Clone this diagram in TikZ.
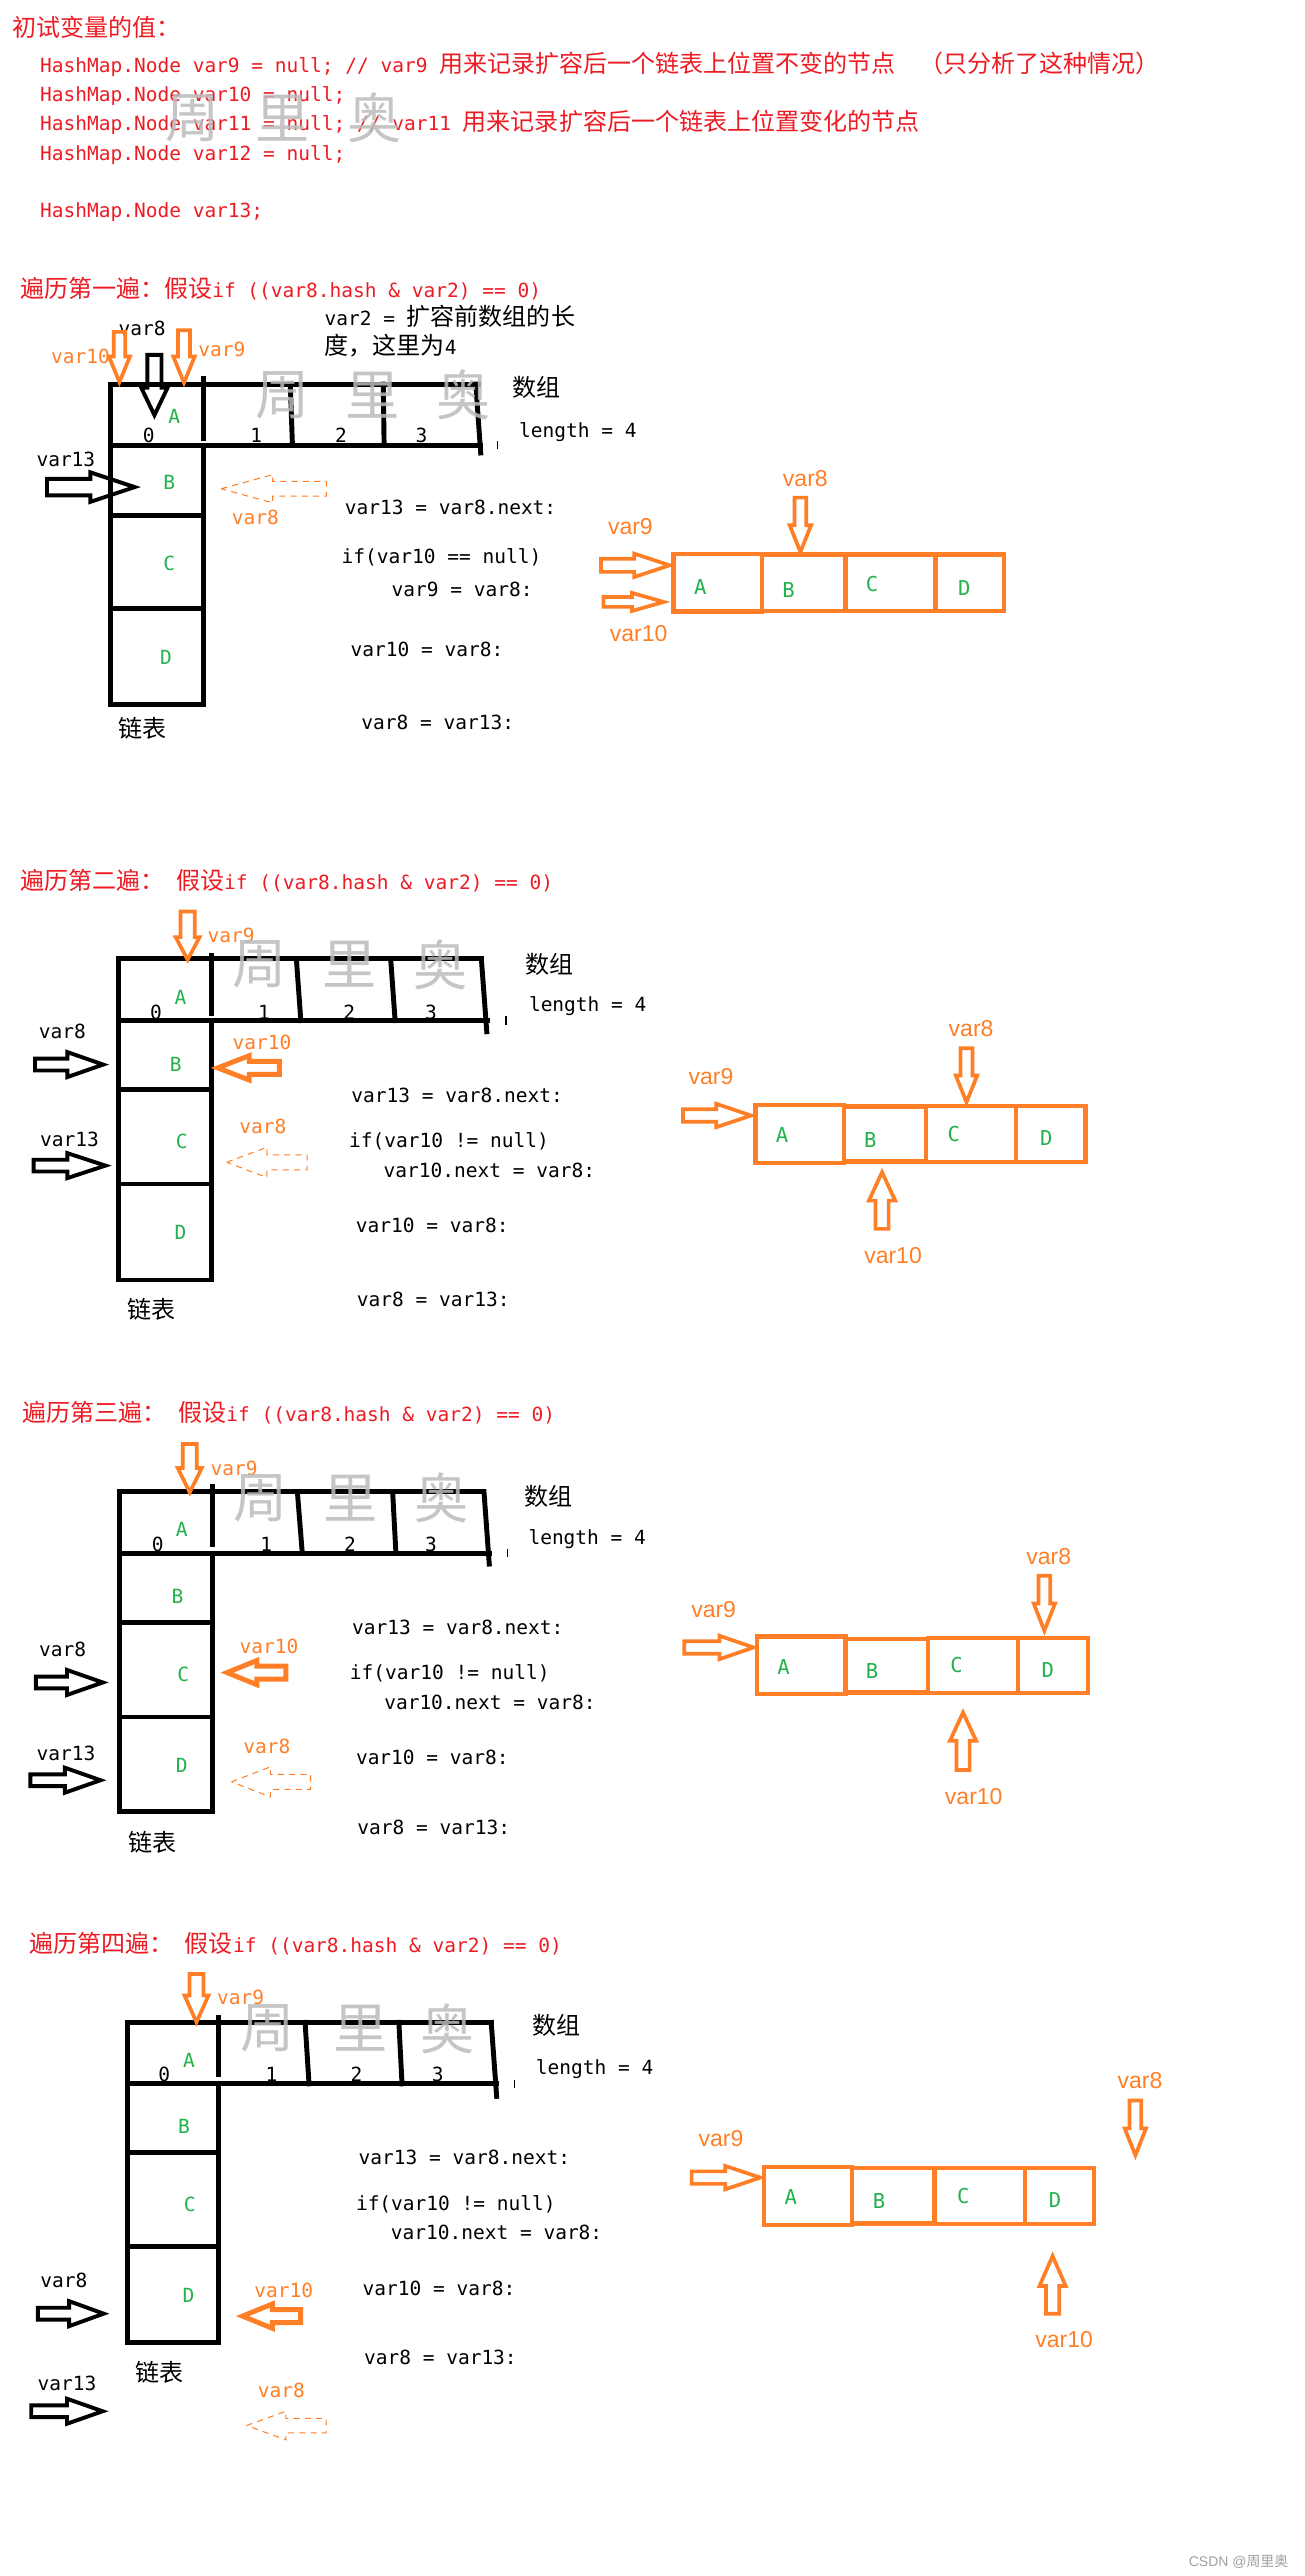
\documentclass[tikz,border=0pt]{standalone}
\usepackage{fontspec}
\newfontfamily\monof{DejaVu Sans Mono}
\newfontfamily\cjkf{Noto Sans CJK SC}
\newfontfamily\sansf{Liberation Sans}
\newcommand\tM{\fontsize{9.5pt}{11pt}\monof}
\newcommand\tMb{\fontsize{10pt}{12pt}\monof}
\newcommand\tC{\fontsize{11.7pt}{13pt}\cjkf}
\newcommand\tL{\fontsize{11.2pt}{13pt}\sansf}
\newcommand\tW{\fontsize{26.4pt}{30pt}\cjkf}
\newcommand\tS{\fontsize{6.8pt}{8pt}\sansf}
\newcommand\tSc{\fontsize{6.8pt}{8pt}\cjkf}
\definecolor{ored}{HTML}{ED1C24}
\definecolor{oorange}{HTML}{FF7F27}
\definecolor{ogreen}{HTML}{22B14C}
\definecolor{wmgray}{HTML}{BCBCBC}
\definecolor{csdngray}{HTML}{A0A0A0}
\newcommand\blockarrow[8]{\begin{scope}[shift={(#2,#3)},rotate=#4]\draw[#1] (0,0) -- (-#6,#8) -- (-#6,#7) -- (-#5,#7) -- (-#5,-#7) -- (-#6,-#7) -- (-#6,-#8) -- cycle;\end{scope}}
\tikzset{
  txt/.style={inner sep=0pt, outer sep=0pt, text height=7pt, text depth=0pt},
  code/.style={txt, anchor=west, font=\tM},
  cjkt/.style={txt, anchor=west, font=\tC},
  lblk/.style={txt, font=\tM},
  lor/.style={txt, font=\tM, text=oorange},
  rlab/.style={txt, font=\tL, text=oorange},
  letter/.style={txt, font=\tM, text=ogreen},
  rletter/.style={txt, font=\tMb, text=ogreen},
  idx/.style={txt, font=\tM},
  ttl/.style={txt, anchor=west, text=ored},
  wm/.style={inner sep=0pt, font=\tW, text=wmgray, text opacity=0.85},
  grid/.style={line width=2.4pt, line cap=rect, line join=miter},
  obox/.style={draw=oorange, line width=2.1pt},
  barr/.style={draw=black, line width=1.9pt, line join=miter},
  oarr/.style={draw=oorange, line width=1.8pt, line join=miter},
  oarrthick/.style={draw=oorange, line width=2.4pt, line join=miter},
  dasharr/.style={draw=oorange, line width=0.5pt, dash pattern=on 3pt off 2.5pt},
  tick/.style={line width=0.6pt}
}
\begin{document}
\begin{tikzpicture}[x=0.8pt,y=-0.8pt]
\fill[white] (0,0) rectangle (794,1568);
\useasboundingbox (0,0) rectangle (794,1568);

% ---------------- header ----------------
\node[ttl, font=\tC] (h0) at (7.6,17.9) {初试变量的值：};
\node[ttl] (h1) at (24.4,40) {{\tM HashMap.Node var9 = null; // var9 }{\tC 用来记录扩容后一个链表上位置不变的节点}{\tM\ \ }{\tC （只分析了这种情况）}};
\node[ttl, font=\tM] (h2) at (24.4,57.4) {HashMap.Node var10 = null;};
\node[ttl] (h3) at (24.4,75.1) {{\tM HashMap.Node var11 = null; // var11 }{\tC 用来记录扩容后一个链表上位置变化的节点}};
\node[ttl, font=\tM] (h4) at (24.4,93.4) {HashMap.Node var12 = null;};
\node[ttl, font=\tM] (h5) at (24.4,128.3) {HashMap.Node var13;};
\node[wm] (hw1) at (117,72) {周};
\node[wm] (hw2) at (172,72) {里};
\node[wm] (hw3) at (228,72) {奥};

% ---------------- section 1 ----------------
\node[ttl] (s1t) at (12.2,176.6) {{\tC 遍历第一遍：假设}{\tM if ((var8.hash \& var2) == 0)}};
\node[txt, anchor=west] (s1n1) at (197.6,193.8) {{\tM var2 = }{\tC 扩容前数组的长}};
\node[txt, anchor=west] (s1n2) at (197.6,211.5) {{\tC 度，这里为}{\tM 4}};
% grid
\draw[grid] (67.4,428.7) -- (67.4,233.8) -- (291,233.8);
\draw[grid] (67.4,271) -- (292.6,271);
\draw[grid] (289.6,233.8) -- (292.6,275.7);
\draw[grid] (123.7,230.4) -- (123.7,266.7);
\draw[grid] (176.7,233.8) -- (178,271);
\draw[grid] (233.3,233.8) -- (233.8,271);
\draw[grid] (123.7,271) -- (123.7,428.7) -- (67.4,428.7);
\draw[grid] (67.4,313.6) -- (123.7,313.6);
\draw[grid] (67.4,370.4) -- (123.7,370.4);
\draw[tick] (303,268.5) -- (303,273.5);
\node[idx] (s1i0) at (90.5,265) {0};
\node[letter] (s1a) at (106,253.7) {A};
\node[idx] (s1i1) at (155.9,265) {1};
\node[idx] (s1i2) at (207.6,265) {2};
\node[idx] (s1i3) at (256.5,265) {3};
\node[cjkt] (s1arr) at (312,237.1) {数组};
\node[code] (s1len) at (316,261.8) {length = 4};
\node[letter] (s1b) at (103,293.3) {B};
\node[letter] (s1c) at (103,343) {C};
\node[letter] (s1d) at (101,400) {D};
\node[txt, font=\tC] (s1ll) at (86.5,444.6) {链表};
% pointers
\node[lblk] (s1v8) at (86.5,200) {var8};
\node[lor] (s1v10) at (49,217) {var10};
\node[lor] (s1v9) at (135,212.6) {var9};
\blockarrow{oarr}{72.7}{232.6}{-90}{30.6}{15.6}{3.5}{6.4}
\blockarrow{oarr}{112}{233}{-90}{32}{16}{3.6}{6.5}
\blockarrow{barr}{94}{252.7}{-90}{36.7}{16.7}{4.3}{8}
\node[lblk] (s1v13) at (40.1,279.7) {var13};
\blockarrow{barr}{82}{296.5}{0}{53.4}{27}{5}{9}
\blockarrow{dasharr}{134.6}{297.5}{180}{64}{31.4}{4.5}{8.6}
\node[lor] (s1v8b) at (155.5,314.6) {var8};
% code
\node[code] (s1c1) at (209.9,309) {var13 = var8.next:};
\node[code] (s1c2) at (208,338.6) {if(var10 == null)};
\node[code] (s1c3) at (238.4,358.7) {var9 = var8:};
\node[code] (s1c4) at (213.4,395.3) {var10 = var8:};
\node[code] (s1c5) at (220,439.5) {var8 = var13:};
% right list
\draw[obox] (410,337.2) rectangle (463.9,372.3);
\draw[obox] (463.9,337.6) rectangle (514.6,371.9);
\draw[obox] (514.6,337.6) rectangle (569.4,371.9);
\draw[obox] (569.4,337.6) rectangle (611,371.9);
\node[rletter] (s1ra) at (426.3,357.3) {A};
\node[rletter] (s1rb) at (480,359.3) {B};
\node[rletter] (s1rc) at (530.8,355.7) {C};
\node[rletter] (s1rd) at (587,358.3) {D};
\node[rlab] (s1r8) at (490.2,291.9) {var8};
\node[rlab] (s1r9) at (383.7,321.1) {var9};
\node[rlab] (s1r10) at (388.7,386.3) {var10};
\blockarrow{oarr}{487.2}{336}{-90}{33.1}{16.3}{3.6}{6.5}
\blockarrow{oarr}{407.6}{344.1}{0}{41.8}{21.5}{4}{7.1}
\blockarrow{oarr}{404}{366.4}{0}{36.6}{19.3}{3}{5.5}
\node[wm] (s1w1) at (172,240.5) {周};
\node[wm] (s1w2) at (227,240.5) {里};
\node[wm] (s1w3) at (282,240.5) {奥};

% ---------------- section 2 ----------------
\node[ttl] (s2t) at (12.3,537.3) {{\tC 遍历第二遍：}{\tM\ }{\tC 假设}{\tM if ((var8.hash \& var2) == 0)}};
\draw[grid] (72,779.1) -- (72,583.6) -- (293,583.6);
\draw[grid] (72,621.2) -- (296.9,621.2);
\draw[grid] (293,583.6) -- (296.3,628);
\draw[grid] (128.7,581.7) -- (128.7,617);
\draw[grid] (180.4,583.6) -- (183.1,621.2);
\draw[grid] (237.8,583.6) -- (240.5,621.2);
\draw[grid] (128.7,621.2) -- (128.7,779.1) -- (72,779.1);
\draw[grid] (72,663.4) -- (128.7,663.4);
\draw[grid] (72,720.7) -- (128.7,720.7);
\draw[tick] (308,618.7) -- (308,623.7);
\node[idx] (s2i0) at (95,616) {0};
\node[letter] (s2a) at (109.8,607) {A};
\node[idx] (s2i1) at (160.7,616) {1};
\node[idx] (s2i2) at (212.6,616) {2};
\node[idx] (s2i3) at (262.3,616) {3};
\node[cjkt] (s2arr) at (320,588.3) {数组};
\node[code] (s2len) at (322,611.5) {length = 4};
\node[letter] (s2b) at (107,647.6) {B};
\node[letter] (s2c) at (110.7,694.7) {C};
\node[letter] (s2d) at (109.8,750.1) {D};
\node[txt, font=\tC] (s2ll) at (92.4,798.2) {链表};
\blockarrow{oarr}{114.2}{584.2}{-90}{29.4}{13.8}{4.3}{7.3}
\node[lor] (s2v9) at (140.7,569.4) {var9};
\node[lblk] (s2v8) at (38,627.9) {var8};
\blockarrow{barr}{62.8}{648}{0}{41.5}{21.8}{3.6}{7.6}
\node[lblk] (s2v13) at (42.3,693.3) {var13};
\blockarrow{barr}{64.2}{709.5}{0}{43.7}{23.2}{3.6}{7.6}
\node[lor] (s2v10) at (159.5,634.4) {var10};
\blockarrow{oarrthick}{132.5}{650}{180}{37.5}{19.2}{4}{7.4}
\node[lor] (s2v8b) at (160,685.8) {var8};
\blockarrow{dasharr}{138}{707.5}{180}{49}{24.5}{4.6}{9.2}
\node[code] (s2c1) at (213.9,666.5) {var13 = var8.next:};
\node[code] (s2c2) at (212.5,694.3) {if(var10 != null)};
\node[code] (s2c3) at (233.5,712.1) {var10.next = var8:};
\node[code] (s2c4) at (216.6,746) {var10 = var8:};
\node[code] (s2c5) at (217.2,790.7) {var8 = var13:};
\draw[obox] (459.8,672.4) rectangle (513.6,707.9);
\draw[obox] (513.6,673.6) rectangle (563.7,706.9);
\draw[obox] (563.7,673) rectangle (618.5,707.5);
\draw[obox] (618.5,673) rectangle (660.8,707.5);
\node[rletter] (s2ra) at (476,691.2) {A};
\node[rletter] (s2rb) at (529.8,693.8) {B};
\node[rletter] (s2rc) at (580.6,690.6) {C};
\node[rletter] (s2rd) at (636.8,692.9) {D};
\node[rlab] (s2r9) at (432.8,655.7) {var9};
\blockarrow{oarr}{457.2}{679}{0}{41.5}{21.2}{3.8}{7.1}
\node[rlab] (s2r8) at (591.1,626.3) {var8};
\blockarrow{oarr}{588.3}{670.9}{-90}{32.9}{16.2}{3.6}{6.5}
\blockarrow{oarr}{536.9}{713.5}{90}{34.5}{17.3}{4}{8}
\node[rlab] (s2r10) at (543.6,765) {var10};
\node[wm] (s2w1) at (158,587) {周};
\node[wm] (s2w2) at (213,587) {里};
\node[wm] (s2w3) at (268,587) {奥};

% ---------------- section 3 ----------------
\node[ttl] (s3t) at (13.6,860.7) {{\tC 遍历第三遍：}{\tM\ }{\tC 假设}{\tM if ((var8.hash \& var2) == 0)}};
\draw[grid] (73,1102.9) -- (73,908) -- (294.6,908);
\draw[grid] (73,945.4) -- (297.8,945.4);
\draw[grid] (294.6,908) -- (297.8,952);
\draw[grid] (129.3,905) -- (129.3,940);
\draw[grid] (181,908) -- (184,945.4);
\draw[grid] (239,908) -- (241,945.4);
\draw[grid] (129.3,945.4) -- (129.3,1102.9) -- (73,1102.9);
\draw[grid] (73,987.6) -- (129.3,987.6);
\draw[grid] (73,1045.1) -- (129.3,1045.1);
\draw[tick] (309,942.9) -- (309,947.9);
\node[idx] (s3i0) at (96,939.9) {0};
\node[letter] (s3a) at (110.7,930.8) {A};
\node[idx] (s3i1) at (162,939.9) {1};
\node[idx] (s3i2) at (213,939.9) {2};
\node[idx] (s3i3) at (262.4,939.9) {3};
\node[cjkt] (s3arr) at (319.5,911.9) {数组};
\node[code] (s3len) at (321.7,935.8) {length = 4};
\node[letter] (s3b) at (108,971.4) {B};
\node[letter] (s3c) at (111.5,1019) {C};
\node[letter] (s3d) at (110.7,1074.3) {D};
\node[txt, font=\tC] (s3ll) at (92.9,1122.6) {链表};
\blockarrow{oarr}{115.5}{908.4}{-90}{29.4}{14.8}{4.3}{7.3}
\node[lor] (s3v9) at (142.5,893.6) {var9};
\node[lblk] (s3v8) at (38.1,1003.8) {var8};
\blockarrow{barr}{62.6}{1024.1}{0}{40.8}{21.8}{3.6}{7.6}
\node[lblk] (s3v13) at (40.2,1067.4) {var13};
\blockarrow{barr}{61.2}{1083.6}{0}{42.7}{21.7}{3.6}{7.6}
\node[lor] (s3v10) at (163.7,1002.2) {var10};
\blockarrow{oarrthick}{138.2}{1018.1}{180}{35.8}{18.2}{4}{7.4}
\node[lor] (s3v8b) at (162.5,1062.7) {var8};
\blockarrow{dasharr}{140.9}{1084.6}{180}{48.1}{23.7}{4.6}{9.15}
\node[code] (s3c1) at (214.3,990.7) {var13 = var8.next:};
\node[code] (s3c2) at (213,1018) {if(var10 != null)};
\node[code] (s3c3) at (233.9,1035.9) {var10.next = var8:};
\node[code] (s3c4) at (216.7,1069.8) {var10 = var8:};
\node[code] (s3c5) at (217.6,1112.4) {var8 = var13:};
\draw[obox] (460.8,996.2) rectangle (514.6,1031.2);
\draw[obox] (514.6,997.5) rectangle (564.9,1030.2);
\draw[obox] (564.9,997) rectangle (619.5,1030.5);
\draw[obox] (619.5,997) rectangle (662.1,1030.5);
\node[rletter] (s3ra) at (477,1015) {A};
\node[rletter] (s3rb) at (530.8,1017.4) {B};
\node[rletter] (s3rc) at (582.2,1013.9) {C};
\node[rletter] (s3rd) at (637.8,1016.6) {D};
\node[rlab] (s3r9) at (434.4,980) {var9};
\blockarrow{oarr}{458.7}{1002.8}{0}{42.2}{20.7}{3.8}{7.1}
\node[rlab] (s3r8) at (638.4,948) {var8};
\blockarrow{oarr}{635.7}{992.6}{-90}{33.5}{16.6}{3.6}{6.5}
\blockarrow{oarr}{586.2}{1042.4}{90}{35}{17.2}{4}{8}
\node[rlab] (s3r10) at (592.7,1094.2) {var10};
\node[wm] (s3w1) at (158.4,912) {周};
\node[wm] (s3w2) at (213.4,912) {里};
\node[wm] (s3w3) at (268.5,912) {奥};

% ---------------- section 4 ----------------
\node[ttl] (s4t) at (17.7,1184.2) {{\tC 遍历第四遍：}{\tM\ }{\tC 假设}{\tM if ((var8.hash \& var2) == 0)}};
\draw[grid] (77.5,1425.7) -- (77.5,1231) -- (299,1231);
\draw[grid] (77.5,1268.4) -- (302.3,1268.4);
\draw[grid] (299,1231) -- (302.3,1276);
\draw[grid] (133.2,1228) -- (133.2,1263);
\draw[grid] (185.7,1231) -- (188.1,1268.4);
\draw[grid] (242.8,1231) -- (244.7,1268.4);
\draw[grid] (133.2,1268.4) -- (133.2,1425.7) -- (77.5,1425.7);
\draw[grid] (77.5,1310.4) -- (133.2,1310.4);
\draw[grid] (77.5,1367.6) -- (133.2,1367.6);
\draw[tick] (313.2,1265.9) -- (313.2,1270.9);
\node[idx] (s4i0) at (100,1262.5) {0};
\node[letter] (s4a) at (115,1253.9) {A};
\node[idx] (s4i1) at (165.3,1262.5) {1};
\node[idx] (s4i2) at (217,1262.5) {2};
\node[idx] (s4i3) at (266.4,1262.5) {3};
\node[cjkt] (s4arr) at (324,1234.3) {数组};
\node[code] (s4len) at (326.2,1258.2) {length = 4};
\node[letter] (s4b) at (112,1294.1) {B};
\node[letter] (s4c) at (115.5,1341.5) {C};
\node[letter] (s4d) at (114.7,1397.4) {D};
\node[txt, font=\tC] (s4ll) at (97.3,1445.3) {链表};
\blockarrow{oarr}{119.6}{1230.9}{-90}{29.3}{16.3}{4.3}{7.3}
\node[lor] (s4v9) at (146.5,1215.8) {var9};
\node[lblk] (s4v8) at (38.9,1387.7) {var8};
\blockarrow{barr}{63.1}{1408.3}{0}{40}{21}{3.6}{7.6}
\node[lblk] (s4v13) at (40.8,1450.6) {var13};
\blockarrow{barr}{62.5}{1467.7}{0}{43.5}{21.7}{3.6}{7.6}
\node[lor] (s4v10) at (172.7,1394.2) {var10};
\blockarrow{oarrthick}{147.6}{1409.8}{180}{35.4}{18.2}{4}{7.4}
\node[lor] (s4v8b) at (171.3,1455.1) {var8};
\blockarrow{dasharr}{150.1}{1476.4}{180}{48.4}{23.9}{4.4}{8.7}
\node[code] (s4c1) at (218.3,1313.2) {var13 = var8.next:};
\node[code] (s4c2) at (216.7,1340.9) {if(var10 != null)};
\node[code] (s4c3) at (237.9,1359) {var10.next = var8:};
\node[code] (s4c4) at (220.8,1392.6) {var10 = var8:};
\node[code] (s4c5) at (221.6,1435) {var8 = var13:};
\draw[obox] (465,1318.9) rectangle (518.7,1354.4);
\draw[obox] (518.7,1319.7) rectangle (568.9,1353.4);
\draw[obox] (568.9,1319.7) rectangle (623.7,1353.6);
\draw[obox] (623.7,1319.7) rectangle (666.1,1353.6);
\node[rletter] (s4ra) at (481.3,1337.6) {A};
\node[rletter] (s4rb) at (535,1340) {B};
\node[rletter] (s4rc) at (586.3,1336.6) {C};
\node[rletter] (s4rd) at (642.2,1339.3) {D};
\node[rlab] (s4r9) at (438.9,1302.2) {var9};
\blockarrow{oarr}{462.8}{1325.5}{0}{41.8}{21.3}{3.8}{7.1}
\node[rlab] (s4r8) at (693.9,1267) {var8};
\blockarrow{oarr}{691.1}{1311.9}{-90}{33.4}{16.4}{3.6}{6.5}
\blockarrow{oarr}{640.7}{1373.2}{90}{35.1}{18.3}{4}{8}
\node[rlab] (s4r10) at (647.7,1424.6) {var10};
\node[wm] (s4w1) at (163.1,1234.8) {周};
\node[wm] (s4w2) at (219.5,1234.8) {里};
\node[wm] (s4w3) at (272.5,1234.8) {奥};

% footer
\node[inner sep=0pt, anchor=east, text=csdngray] (csdn) at (784.5,1559) {{\tS CSDN @}{\tSc 周里奥}};
\end{tikzpicture}
\end{document}
